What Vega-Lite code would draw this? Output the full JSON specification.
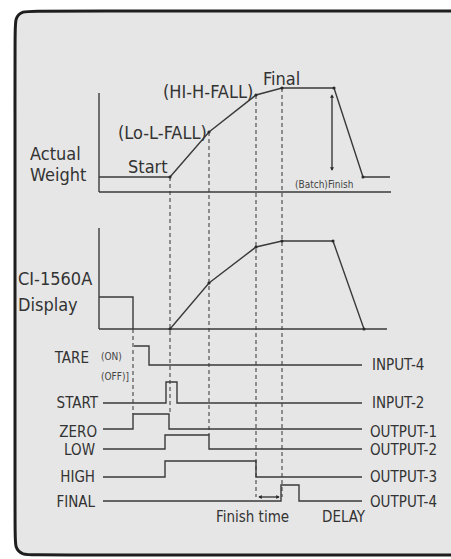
{
  "$schema": "https://vega.github.io/schema/vega-lite/v6.json",
  "width": 451,
  "height": 559,
  "padding": 0,
  "autosize": {"type": "none"},
  "background": "#ffffff",
  "config": {"view": {"stroke": null}},
  "datasets": {
    "frame": [{"x": 15, "x2": 460, "y": 11, "y2": 555}],
    "border": [
      {"i": 0, "x": 470, "y": 11}, {"i": 1, "x": 36, "y": 11}, {"i": 2, "x": 22, "y": 11},
      {"i": 3, "x": 15, "y": 18}, {"i": 4, "x": 15, "y": 32}, {"i": 5, "x": 15, "y": 534},
      {"i": 6, "x": 15, "y": 548}, {"i": 7, "x": 22, "y": 555}, {"i": 8, "x": 36, "y": 555},
      {"i": 9, "x": 470, "y": 555}
    ],
    "lines": [
      {"s": "a_axis", "i": 0, "x": 99, "y": 93}, {"s": "a_axis", "i": 1, "x": 99, "y": 192},
      {"s": "a_base", "i": 0, "x": 99, "y": 192}, {"s": "a_base", "i": 1, "x": 391, "y": 192},
      {"s": "a_start", "i": 0, "x": 99, "y": 177}, {"s": "a_start", "i": 1, "x": 170, "y": 177},
      {"s": "a_curve", "i": 0, "x": 170, "y": 177}, {"s": "a_curve", "i": 1, "x": 209, "y": 132},
      {"s": "a_curve", "i": 2, "x": 256, "y": 95}, {"s": "a_curve", "i": 3, "x": 282, "y": 88},
      {"s": "a_curve", "i": 4, "x": 334, "y": 88}, {"s": "a_curve", "i": 5, "x": 363, "y": 177},
      {"s": "a_curve", "i": 6, "x": 390, "y": 177},
      {"s": "a_arrow", "i": 0, "x": 332, "y": 96}, {"s": "a_arrow", "i": 1, "x": 332, "y": 170},
      {"s": "d_axis", "i": 0, "x": 99, "y": 228}, {"s": "d_axis", "i": 1, "x": 99, "y": 329},
      {"s": "d_base", "i": 0, "x": 99, "y": 329}, {"s": "d_base", "i": 1, "x": 387, "y": 329},
      {"s": "d_box", "i": 0, "x": 99, "y": 297}, {"s": "d_box", "i": 1, "x": 133, "y": 297},
      {"s": "d_box", "i": 2, "x": 133, "y": 329},
      {"s": "d_curve", "i": 0, "x": 170, "y": 329}, {"s": "d_curve", "i": 1, "x": 209, "y": 283},
      {"s": "d_curve", "i": 2, "x": 256, "y": 247}, {"s": "d_curve", "i": 3, "x": 282, "y": 241},
      {"s": "d_curve", "i": 4, "x": 333, "y": 241}, {"s": "d_curve", "i": 5, "x": 364, "y": 329},
      {"s": "tare", "i": 0, "x": 134, "y": 346}, {"s": "tare", "i": 1, "x": 149, "y": 346},
      {"s": "tare", "i": 2, "x": 149, "y": 365}, {"s": "tare", "i": 3, "x": 362, "y": 365},
      {"s": "start", "i": 0, "x": 103, "y": 403}, {"s": "start", "i": 1, "x": 166, "y": 403},
      {"s": "start", "i": 2, "x": 166, "y": 382}, {"s": "start", "i": 3, "x": 177, "y": 382},
      {"s": "start", "i": 4, "x": 177, "y": 403}, {"s": "start", "i": 5, "x": 362, "y": 403},
      {"s": "zero", "i": 0, "x": 103, "y": 429}, {"s": "zero", "i": 1, "x": 133, "y": 429},
      {"s": "zero", "i": 2, "x": 133, "y": 414}, {"s": "zero", "i": 3, "x": 169, "y": 414},
      {"s": "zero", "i": 4, "x": 169, "y": 429}, {"s": "zero", "i": 5, "x": 362, "y": 429},
      {"s": "low", "i": 0, "x": 103, "y": 449}, {"s": "low", "i": 1, "x": 165, "y": 449},
      {"s": "low", "i": 2, "x": 165, "y": 435}, {"s": "low", "i": 3, "x": 209, "y": 435},
      {"s": "low", "i": 4, "x": 209, "y": 449}, {"s": "low", "i": 5, "x": 362, "y": 449},
      {"s": "high", "i": 0, "x": 103, "y": 477}, {"s": "high", "i": 1, "x": 165, "y": 477},
      {"s": "high", "i": 2, "x": 165, "y": 461}, {"s": "high", "i": 3, "x": 256, "y": 461},
      {"s": "high", "i": 4, "x": 256, "y": 477}, {"s": "high", "i": 5, "x": 362, "y": 477},
      {"s": "final", "i": 0, "x": 103, "y": 501}, {"s": "final", "i": 1, "x": 281, "y": 501},
      {"s": "final", "i": 2, "x": 281, "y": 485}, {"s": "final", "i": 3, "x": 299, "y": 485},
      {"s": "final", "i": 4, "x": 299, "y": 501}, {"s": "final", "i": 5, "x": 362, "y": 501},
      {"s": "f_arrow", "i": 0, "x": 259, "y": 497}, {"s": "f_arrow", "i": 1, "x": 279, "y": 497}
    ],
    "dashes": [
      {"s": "v133", "i": 0, "x": 133, "y": 329}, {"s": "v133", "i": 1, "x": 133, "y": 414},
      {"s": "v170", "i": 0, "x": 170, "y": 177}, {"s": "v170", "i": 1, "x": 170, "y": 414},
      {"s": "v209", "i": 0, "x": 209, "y": 132}, {"s": "v209", "i": 1, "x": 209, "y": 435},
      {"s": "v256", "i": 0, "x": 256, "y": 95}, {"s": "v256", "i": 1, "x": 256, "y": 497},
      {"s": "v282", "i": 0, "x": 282, "y": 88}, {"s": "v282", "i": 1, "x": 282, "y": 497}
    ],
    "dots": [
      {"x": 170, "y": 177}, {"x": 209, "y": 132}, {"x": 256, "y": 95}, {"x": 282, "y": 88},
      {"x": 334, "y": 88}, {"x": 363, "y": 177},
      {"x": 170, "y": 329}, {"x": 209, "y": 283}, {"x": 256, "y": 247}, {"x": 282, "y": 241},
      {"x": 333, "y": 241}, {"x": 364, "y": 329}
    ],
    "arrows": [
      {"dir": "up", "x": 332, "y": 96}, {"dir": "down", "x": 332, "y": 169},
      {"dir": "left", "x": 260, "y": 497}, {"dir": "right", "x": 278, "y": 497}
    ],
    "textBig": [
      {"t": "Final", "x": 263, "y": 80},
      {"t": "(HI-H-FALL)", "x": 163, "y": 93},
      {"t": "(Lo-L-FALL)", "x": 118, "y": 134},
      {"t": "Start", "x": 128, "y": 168},
      {"t": "Actual", "x": 30, "y": 155},
      {"t": "Weight", "x": 30, "y": 176},
      {"t": "CI-1560A", "x": 18, "y": 280},
      {"t": "Display", "x": 18, "y": 306}
    ],
    "textL": [
      {"t": "INPUT-4", "x": 372, "y": 365},
      {"t": "INPUT-2", "x": 372, "y": 403},
      {"t": "OUTPUT-1", "x": 370, "y": 432},
      {"t": "OUTPUT-2", "x": 370, "y": 450},
      {"t": "OUTPUT-3", "x": 370, "y": 477},
      {"t": "OUTPUT-4", "x": 370, "y": 502},
      {"t": "Finish time", "x": 216, "y": 517},
      {"t": "DELAY", "x": 322, "y": 517}
    ],
    "textR": [
      {"t": "TARE", "x": 89, "y": 358},
      {"t": "START", "x": 98, "y": 403},
      {"t": "ZERO", "x": 97, "y": 432},
      {"t": "LOW", "x": 95, "y": 450},
      {"t": "HIGH", "x": 95, "y": 477},
      {"t": "FINAL", "x": 95, "y": 502}
    ],
    "textS": [
      {"t": "(Batch)Finish", "x": 295, "y": 185},
      {"t": "(ON)", "x": 101, "y": 357},
      {"t": "(OFF)]", "x": 101, "y": 377}
    ]
  },
  "encoding": {
    "x": {"field": "x", "type": "quantitative", "scale": {"domain": [0, 451], "nice": false, "zero": false}, "axis": null},
    "y": {"field": "y", "type": "quantitative", "scale": {"domain": [0, 559], "nice": false, "zero": false, "reverse": true}, "axis": null}
  },
  "layer": [
    {
      "data": {"name": "frame"},
      "mark": {"type": "rect", "cornerRadiusTopLeft": 18, "cornerRadiusBottomLeft": 18, "fill": "#e6e6e6", "strokeWidth": 0},
      "encoding": {"x2": {"field": "x2"}, "y2": {"field": "y2"}}
    },
    {
      "data": {"name": "border"},
      "mark": {"type": "line", "interpolate": "basis", "color": "#1e1e1e", "strokeWidth": 3},
      "encoding": {"order": {"field": "i", "type": "quantitative"}}
    },
    {
      "data": {"name": "dashes"},
      "mark": {"type": "line", "color": "#444444", "strokeWidth": 1.1, "strokeDash": [4, 3]},
      "encoding": {"detail": {"field": "s"}, "order": {"field": "i", "type": "quantitative"}}
    },
    {
      "data": {"name": "lines"},
      "mark": {"type": "line", "color": "#3a3a3a", "strokeWidth": 1.4},
      "encoding": {"detail": {"field": "s"}, "order": {"field": "i", "type": "quantitative"}}
    },
    {
      "data": {"name": "dots"},
      "mark": {"type": "point", "filled": true, "color": "#2a2a2a", "size": 10, "opacity": 1}
    },
    {
      "data": {"name": "arrows"},
      "mark": {"type": "point", "filled": true, "color": "#2a2a2a", "size": 16, "opacity": 1},
      "encoding": {
        "shape": {"field": "dir", "type": "nominal", "scale": {"domain": ["up", "down", "left", "right"], "range": ["triangle-up", "triangle-down", "triangle-left", "triangle-right"]}, "legend": null}
      }
    },
    {
      "data": {"name": "textBig"},
      "mark": {"type": "text", "align": "left", "baseline": "middle", "font": "DejaVu Sans Condensed, DejaVu Sans, sans-serif", "fontSize": 18, "color": "#333333"},
      "encoding": {"text": {"field": "t"}}
    },
    {
      "data": {"name": "textL"},
      "mark": {"type": "text", "align": "left", "baseline": "middle", "font": "DejaVu Sans Condensed, DejaVu Sans, sans-serif", "fontSize": 15, "color": "#333333"},
      "encoding": {"text": {"field": "t"}}
    },
    {
      "data": {"name": "textR"},
      "mark": {"type": "text", "align": "right", "baseline": "middle", "font": "DejaVu Sans Condensed, DejaVu Sans, sans-serif", "fontSize": 15, "color": "#333333"},
      "encoding": {"text": {"field": "t"}}
    },
    {
      "data": {"name": "textS"},
      "mark": {"type": "text", "align": "left", "baseline": "middle", "font": "DejaVu Sans Condensed, DejaVu Sans, sans-serif", "fontSize": 10, "color": "#444444"},
      "encoding": {"text": {"field": "t"}}
    }
  ]
}
